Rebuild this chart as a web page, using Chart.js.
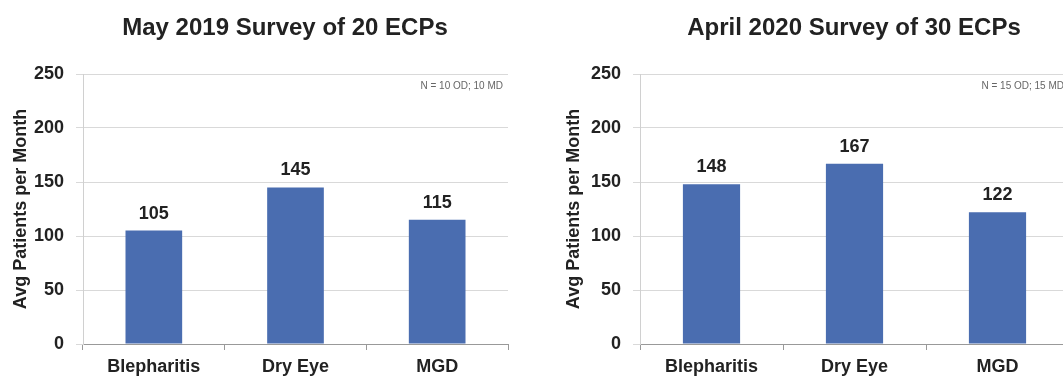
<!DOCTYPE html>
<html>
<head>
<meta charset="utf-8">
<script src="https://cdn.jsdelivr.net/npm/chart.js@4.4.1/dist/chart.umd.min.js"></script>
<style>
  html, body { margin: 0; padding: 0; background: #fff; overflow: hidden; }
  #wrap { position: relative; width: 1063px; height: 381px; overflow: hidden; }
  #c1 { position: absolute; left: 0; top: 0; }
  #c2 { position: absolute; left: 540px; top: 0; }
</style>
</head>
<body>
<div id="wrap">
  <canvas id="c1" width="570" height="381"></canvas>
  <canvas id="c2" width="529" height="381"></canvas>
</div>
<script>
const categories = ["Blepharitis", "Dry Eye", "MGD"];
const values2019 = [105, 145, 115];
const values2020 = [148, 167, 122];
const yTicks = [0, 50, 100, 150, 200, 250];

const barColor = "#4a6db0";
const fontFam = "'Liberation Sans', Arial, sans-serif";

// value labels, small sample note and the chart heading
const extras = {
  id: "extras",
  afterDatasetsDraw(chart, args, opts) {
    const ctx = chart.ctx;
    const area = chart.chartArea;
    const meta = chart.getDatasetMeta(0);
    ctx.save();
    ctx.font = "bold 18px " + fontFam;
    ctx.fillStyle = "#222";
    ctx.textAlign = "center";
    ctx.textBaseline = "middle";
    meta.data.forEach(function (bar, i) {
      ctx.fillText(chart.data.datasets[0].data[i], bar.x, bar.y - 17);
    });

    ctx.font = "10px " + fontFam;
    ctx.fillStyle = "#666";
    ctx.textAlign = "right";
    ctx.fillText(opts.note, area.right - 5, area.top + 12);

    ctx.font = "bold 24px " + fontFam;
    ctx.fillStyle = "#222";
    ctx.textAlign = "center";
    ctx.textBaseline = "alphabetic";
    ctx.fillText(opts.title, opts.titleX, 35);
    ctx.restore();
  }
};

function makeChart(id, title, titleX, values, note, yWidth, yTitlePad, padRight) {
  return new Chart(document.getElementById(id), {
    type: "bar",
    data: {
      labels: categories,
      datasets: [{
        data: values,
        backgroundColor: barColor,
        barPercentage: 0.8,
        categoryPercentage: 0.5
      }]
    },
    options: {
      responsive: false,
      animation: false,
      layout: { padding: { left: 0, right: padRight, top: 74, bottom: 0 } },
      plugins: {
        legend: { display: false },
        tooltip: { enabled: false },
        title: { display: false },
        extras: { note: note, title: title, titleX: titleX }
      },
      scales: {
        x: {
          grid: {
            offset: true,
            drawOnChartArea: false,
            drawTicks: true,
            tickLength: 6,
            color: "#999"
          },
          border: { color: "#999", width: 1 },
          ticks: {
            color: "#222",
            padding: 6,
            font: { family: fontFam, size: 18, weight: "bold" }
          },
          afterFit(s) { s.height = 37; }
        },
        y: {
          min: 0,
          max: 250,
          afterBuildTicks(s) { s.ticks = yTicks.map(v => ({ value: v })); },
          grid: { color: "#d9d9d9", tickLength: 7 },
          border: { color: "#d0d0d0" },
          ticks: {
            color: "#222",
            padding: 12,
            font: { family: fontFam, size: 18, weight: "bold" }
          },
          title: {
            display: true,
            text: "Avg Patients per Month",
            color: "#222",
            padding: { top: yTitlePad, bottom: 0 },
            font: { family: fontFam, size: 18, weight: "bold" }
          },
          afterFit(s) { s.width = yWidth; }
        }
      }
    },
    plugins: [extras]
  });
}

makeChart("c1", "May 2019 Survey of 20 ECPs", 285, values2019, "N = 10 OD; 10 MD", 83, 10, 62);
makeChart("c2", "April 2020 Survey of 30 ECPs", 314, values2020, "N = 15 OD; 15 MD", 100, 23, 0);
</script>
</body>
</html>
